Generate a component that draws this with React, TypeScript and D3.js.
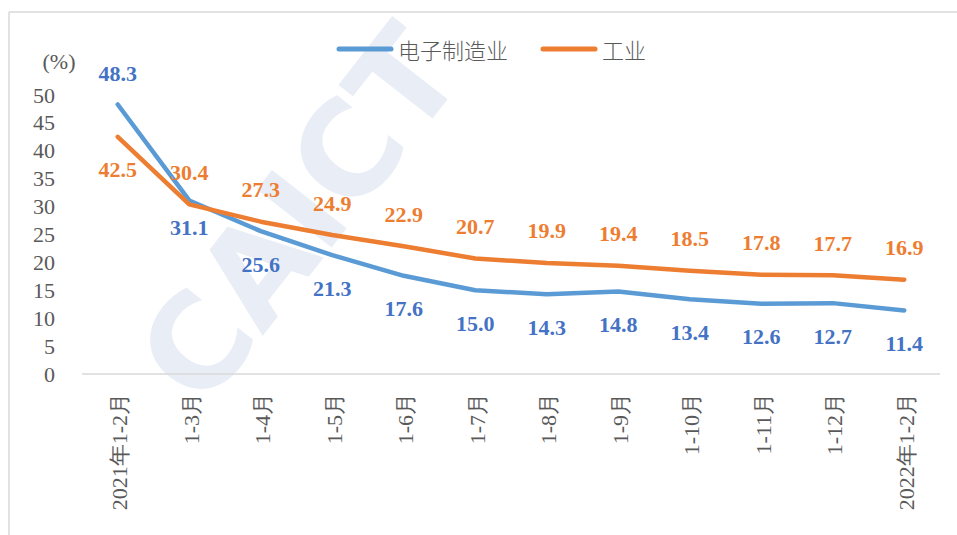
import React from "react";
import * as d3 from "d3";

const categories = ["2021年1-2月", "1-3月", "1-4月", "1-5月", "1-6月", "1-7月", "1-8月", "1-9月", "1-10月", "1-11月", "1-12月", "2022年1-2月"];
const electronics = [48.3, 31.1, 25.6, 21.3, 17.6, 15.0, 14.3, 14.8, 13.4, 12.6, 12.7, 11.4];
const industry = [42.5, 30.4, 27.3, 24.9, 22.9, 20.7, 19.9, 19.4, 18.5, 17.8, 17.7, 16.9];
const yTicks = [0, 5, 10, 15, 20, 25, 30, 35, 40, 45, 50];
const seriesNames = ["电子制造业", "工业"];

const W = 957;
const H = 535;
const BLUE = "#5b9bd5";
const ORANGE = "#ed7d31";
const BLUE_LABEL = "#4472c4";
const GRAY = "#595959";
const serif = { fontFamily: "Liberation Serif" };
const sans = { fontFamily: "Noto Sans CJK SC" };

function blueOffset(i: number) {
  if (i === 0) return -31;
  if (i === 1) return 27;
  return 33;
}

export default function App() {
  const x = d3.scalePoint<string>().domain(categories).range([82, 940]).padding(0.5);
  const y = d3.scaleLinear().domain([0, 50]).range([374, 95]);

  const line = d3
    .line<number>()
    .x((_, i) => x(categories[i]) as number)
    .y((d) => y(d));

  return (
    <svg width={W} height={H} style={{ position: "absolute", left: 0, top: 0, background: "#fff" }}>
      {/* watermark */}
      <text
        transform="translate(300,215) rotate(-52)"
        textAnchor="middle"
        dominantBaseline="central"
        style={{ fontFamily: "DejaVu Sans" }}
        fontWeight="bold"
        fontSize={130}
        fill="#e9edf5"
      >
        CAICT
      </text>

      {/* frame */}
      <line x1={9} y1={12} x2={9} y2={H} stroke="#d9d9d9" strokeWidth={1.5} />
      <line x1={9} y1={12} x2={W} y2={12} stroke="#d9d9d9" strokeWidth={1.5} />

      {/* axis */}
      <line x1={82} y1={y(0)} x2={940} y2={y(0)} stroke="#d9d9d9" strokeWidth={1.5} />

      {/* y ticks */}
      {yTicks.map((t) => (
        <text key={t} x={55} y={y(t)} textAnchor="end" dominantBaseline="central" style={serif} fontSize={22} fill={GRAY}>
          {t}
        </text>
      ))}
      <text x={59} y={61} textAnchor="middle" dominantBaseline="central" style={serif} fontSize={22} fill={GRAY}>
        (%)
      </text>

      {/* x labels */}
      {categories.map((c) => {
        const cx = x(c) as number;
        return (
          <text
            key={c}
            transform={`translate(${cx + 2},393) rotate(-90)`}
            textAnchor="end"
            dominantBaseline="central"
            style={serif}
            fontSize={22}
            fill={GRAY}
          >
            {c}
          </text>
        );
      })}

      {/* lines */}
      <path d={line(electronics) || ""} fill="none" stroke={BLUE} strokeWidth={4.5} strokeLinejoin="round" strokeLinecap="round" />
      <path d={line(industry) || ""} fill="none" stroke={ORANGE} strokeWidth={4.5} strokeLinejoin="round" strokeLinecap="round" />

      {/* data labels */}
      {electronics.map((v, i) => (
        <text
          key={"e" + i}
          x={x(categories[i]) as number}
          y={y(v) + blueOffset(i)}
          textAnchor="middle"
          dominantBaseline="central"
          style={serif}
          fontWeight="bold"
          fontSize={22}
          fill={BLUE_LABEL}
        >
          {v.toFixed(1)}
        </text>
      ))}
      {industry.map((v, i) => (
        <text
          key={"g" + i}
          x={x(categories[i]) as number}
          y={y(v) + (i === 0 ? 33 : -32)}
          textAnchor="middle"
          dominantBaseline="central"
          style={serif}
          fontWeight="bold"
          fontSize={22}
          fill={ORANGE}
        >
          {v.toFixed(1)}
        </text>
      ))}

      {/* legend */}
      <line x1={339} y1={49} x2={391} y2={49} stroke={BLUE} strokeWidth={5} strokeLinecap="round" />
      <text x={398} y={49} dominantBaseline="central" style={sans} fontWeight={300} fontSize={22} fill={GRAY}>
        {seriesNames[0]}
      </text>
      <line x1={543} y1={49} x2={595} y2={49} stroke={ORANGE} strokeWidth={5} strokeLinecap="round" />
      <text x={602} y={49} dominantBaseline="central" style={sans} fontWeight={300} fontSize={22} fill={GRAY}>
        {seriesNames[1]}
      </text>
    </svg>
  );
}
